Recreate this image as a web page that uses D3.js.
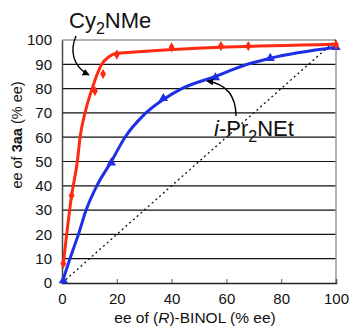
<!DOCTYPE html>
<meta charset="utf-8">
<script src="https://d3js.org/d3.v7.min.js"></script>
<style>
  body { margin: 0; background: #fff; font-family: 'Liberation Sans', Arial, sans-serif; }
</style>
<div id="my_dataviz"></div>
<script>
// tick labels
var xTicks = [0, 20, 40, 60, 80, 100];
var yTicks = [0, 10, 20, 30, 40, 50, 60, 70, 80, 90, 100];

// Cy2NMe: measured points and the drawn fit curve
var redX = [0.5, 3.5, 12, 15, 20, 40, 58, 68, 100];
var redY = [8, 36, 79, 86, 94, 97, 97.5, 97.5, 98];
var redFitX = [0.5, 3.5, 5.6, 6.6, 8.4, 11, 14.5, 17, 20, 100];
var redFitY = [8, 36, 50, 60, 70, 80, 90, 93, 94.5, 98.3];

// i-Pr2NEt: measured points and the drawn fit curve
var blueX = [0.5, 18, 37, 56, 76, 100];
var blueY = [1, 49.5, 76, 84.5, 92.5, 97];
var blueFitX = [0, 2.9, 6, 8.8, 12.7, 18, 23, 29.7, 37, 43.7, 56, 66.8, 76, 100];
var blueFitY = [0, 10, 20, 30, 40, 50, 60, 69, 75.5, 80, 85, 89.7, 92.5, 97];

var margin = {top: 40, left: 62, right: 16, bottom: 43}, width = 274, height = 243;

var svg = d3.select("#my_dataviz")
  .append("svg")
    .attr("width", 352)
    .attr("height", 326)
  .append("g")
    .attr("transform", "translate(" + margin.left + "," + margin.top + ")");

var x = d3.scaleLinear().domain([0, 100]).range([0, width]);
var y = d3.scaleLinear().domain([0, 100]).range([height, 0]);

// arrow head
svg.append("defs").append("marker")
    .attr("id", "arr")
    .attr("viewBox", "0 0 10 10")
    .attr("refX", 9).attr("refY", 5)
    .attr("markerWidth", 7).attr("markerHeight", 7)
    .attr("markerUnits", "userSpaceOnUse")
    .attr("orient", "auto")
  .append("path")
    .attr("d", "M0,0L10,5L0,10z")
    .style("fill", "black");

// horizontal grid
svg.selectAll("grid")
  .data(yTicks.slice(1, -1))
  .enter()
  .append("line")
    .attr("x1", 0).attr("x2", width)
    .attr("y1", function(d) { return y(d); })
    .attr("y2", function(d) { return y(d); })
    .style("stroke", "#111")
    .style("stroke-width", 1.2);

// frame: grey top/right, dark left/bottom
svg.append("line").attr("x1", 0).attr("x2", width).attr("y1", 0).attr("y2", 0)
  .style("stroke", "#999").style("stroke-width", 1.5);
svg.append("line").attr("x1", width).attr("x2", width).attr("y1", 0).attr("y2", height)
  .style("stroke", "#999").style("stroke-width", 1.5);

// X axis
var xAxis = svg.append("g")
  .attr("transform", "translate(0," + height + ")")
  .call(d3.axisBottom(x).tickValues(xTicks).tickSize(-4).tickPadding(10));
xAxis.select(".domain").style("stroke", "#222").style("stroke-width", 1.5);
xAxis.selectAll(".tick line").style("stroke", "#555");
xAxis.selectAll("text")
  .style("font-family", "'Liberation Sans', Arial, sans-serif")
  .style("font-size", "15px")
  .style("fill", "#111");

// Y axis
var yAxis = svg.append("g")
  .call(d3.axisLeft(y).tickValues(yTicks).tickSize(0).tickPadding(10));
yAxis.select(".domain").style("stroke", "#444").style("stroke-width", 1.5);
yAxis.selectAll("text")
  .style("font-family", "'Liberation Sans', Arial, sans-serif")
  .style("font-size", "15px")
  .style("fill", "#111");

// X axis title
var xt = svg.append("text")
  .attr("text-anchor", "middle")
  .attr("x", 133)
  .attr("y", 283)
  .style("font-size", "15.5px")
  .style("fill", "#111");
xt.append("tspan").text("ee of (");
xt.append("tspan").style("font-style", "italic").text("R");
xt.append("tspan").text(")-BINOL (% ee)");

// Y axis title
var yt = svg.append("text")
  .attr("text-anchor", "middle")
  .attr("transform", "translate(-40,95) rotate(-90)")
  .style("font-size", "14.5px")
  .style("fill", "#111");
yt.append("tspan").text("ee of ");
yt.append("tspan").style("font-weight", "bold").text("3aa");
yt.append("tspan").text(" (% ee)");

// diagonal reference
svg.append("line")
  .attr("x1", x(0)).attr("y1", y(0))
  .attr("x2", x(100)).attr("y2", y(100))
  .style("stroke", "#111")
  .style("stroke-width", 1.3)
  .style("stroke-dasharray", "2,3");

var line = d3.line()
  .x(function(d) { return x(d[0]); })
  .y(function(d) { return y(d[1]); })
  .curve(d3.curveMonotoneX);

var redColor = "#ff2a12", blueColor = "#1f2fe6";

svg.append("path")
  .datum(d3.zip(blueFitX, blueFitY))
  .attr("d", line)
  .style("fill", "none")
  .style("stroke", blueColor)
  .style("stroke-width", 3);

svg.append("path")
  .datum(d3.zip(redFitX, redFitY))
  .attr("d", line)
  .style("fill", "none")
  .style("stroke", redColor)
  .style("stroke-width", 3);

// markers
svg.selectAll("bluepts")
  .data(d3.zip(blueX, blueY))
  .enter()
  .append("path")
    .attr("transform", function(d) { return "translate(" + x(d[0]) + "," + y(d[1]) + ")"; })
    .attr("d", d3.symbol().type(d3.symbolTriangle).size(38))
    .style("fill", blueColor);

svg.selectAll("redpts")
  .data(d3.zip(redX, redY))
  .enter()
  .append("path")
    .attr("transform", function(d) { return "translate(" + x(d[0]) + "," + y(d[1]) + ")"; })
    .attr("d", d3.symbol().type(d3.symbolDiamond).size(30))
    .style("fill", redColor);

// labels with arrows
var l1 = svg.append("text")
  .attr("x", 7).attr("y", -12)
  .style("font-size", "22px")
  .style("fill", "#111");
l1.append("tspan").text("Cy");
l1.append("tspan").attr("dy", 6).style("font-size", "16px").text("2");
l1.append("tspan").attr("dy", -6).text("NMe");

svg.append("path")
  .attr("d", "M14,-4 C8,10 10,26 27,35")
  .style("fill", "none")
  .style("stroke", "black")
  .style("stroke-width", 1.4)
  .attr("marker-end", "url(#arr)");

var l2 = svg.append("text")
  .attr("x", 152).attr("y", 96)
  .style("font-size", "22px")
  .style("fill", "#111");
l2.append("tspan").style("font-style", "italic").text("i");
l2.append("tspan").text("-Pr");
l2.append("tspan").attr("dy", 6).style("font-size", "16px").text("2");
l2.append("tspan").attr("dy", -6).text("NEt");

svg.append("path")
  .attr("d", "M174,76 C174,56 164,44 145,41")
  .style("fill", "none")
  .style("stroke", "black")
  .style("stroke-width", 1.4)
  .attr("marker-end", "url(#arr)");
</script>
